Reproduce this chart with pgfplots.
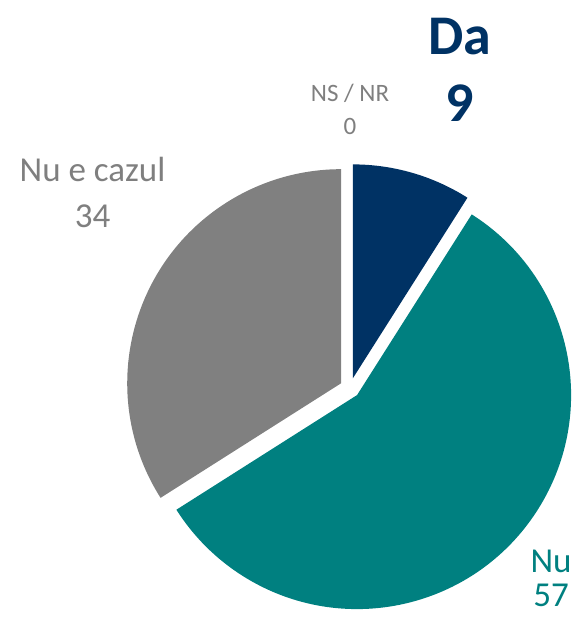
\documentclass[border=0pt]{standalone}
\usepackage{pgfplots}
\usepackage{pgfplotstable}
\pgfplotsset{compat=1.18}
\usepackage{fontspec}
\setmainfont{Carlito}
\usetikzlibrary{calc}
\definecolor{cNavy}{RGB}{0,50,100}
\definecolor{cTeal}{RGB}{0,128,128}
\definecolor{cGray}{RGB}{128,128,128}
\definecolor{cText}{RGB}{127,127,127}

\pgfplotstableread{
label value
Da 9
Nu 57
NuEcazul 34
NSNR 0
}\piedata

\begin{document}
\begin{tikzpicture}
\pgfplotstablegetelem{0}{value}\of\piedata \let\vA\pgfplotsretval
\pgfplotstablegetelem{1}{value}\of\piedata \let\vB\pgfplotsretval
\pgfplotstablegetelem{2}{value}\of\piedata \let\vC\pgfplotsretval
\pgfplotstablegetelem{3}{value}\of\piedata \let\vD\pgfplotsretval
\pgfmathsetmacro\tot{\vA+\vB+\vC+\vD}
\pgfmathsetmacro\fac{360/\tot}
% angles (clockwise from top)
\pgfmathsetmacro\sA{90}
\pgfmathsetmacro\eA{\sA-\fac*\vA}
\pgfmathsetmacro\eB{\eA-\fac*\vB}
\pgfmathsetmacro\eC{\eB-\fac*\vC}
\pgfmathsetmacro\mA{(\sA+\eA)/2}
\pgfmathsetmacro\mB{(\eA+\eB)/2}
\pgfmathsetmacro\mC{(\eB+\eC)/2}
\def\cx{350}\def\cy{236}\def\ex{10}\def\R{214pt}
\pgfmathsetmacro\xA{\cx+\ex*cos(\mA)}\pgfmathsetmacro\yA{\cy+\ex*sin(\mA)}
\pgfmathsetmacro\xB{\cx+\ex*cos(\mB)}\pgfmathsetmacro\yB{\cy+\ex*sin(\mB)}
\pgfmathsetmacro\xC{\cx+\ex*cos(\mC)}\pgfmathsetmacro\yC{\cy+\ex*sin(\mC)}
\begin{axis}[width=576pt,height=624pt,scale only axis,
  xmin=0,xmax=576,ymin=0,ymax=624,hide axis,clip=false]
\fill[cNavy] (axis cs:\xA,\yA) -- ++(\sA:\R) arc[start angle=\sA,end angle=\eA,radius=\R] -- cycle;
\fill[cTeal] (axis cs:\xB,\yB) -- ++(\eA:\R) arc[start angle=\eA,end angle=\eB,radius=\R] -- cycle;
\fill[cGray] (axis cs:\xC,\yC) -- ++(\eB:\R) arc[start angle=\eB,end angle=\eC,radius=\R] -- cycle;
% labels
\node[anchor=base,text=cNavy,font=\fontsize{56}{60}\selectfont\bfseries] at (axis cs:460,569) {Da};
\node[anchor=base,text=cNavy,font=\fontsize{56}{60}\selectfont\bfseries] at (axis cs:460,502) {\vA};
\node[anchor=base,text=cText,font=\fontsize{25}{28}\selectfont] at (axis cs:350,522) {NS / NR};
\node[anchor=base,text=cText,font=\fontsize{25}{28}\selectfont] at (axis cs:350,489) {\vD};
\node[anchor=base,text=cText,font=\fontsize{35}{40}\selectfont] at (axis cs:92.5,442) {Nu e cazul};
\node[anchor=base,text=cText,font=\fontsize{35}{40}\selectfont] at (axis cs:92.5,396) {\vC};
\node[anchor=base,text=cTeal,font=\fontsize{35}{40}\selectfont] at (axis cs:551,51) {Nu};
\node[anchor=base,text=cTeal,font=\fontsize{35}{40}\selectfont] at (axis cs:551,17) {\vB};
\end{axis}
\pgfresetboundingbox
\path (current axis.south west) rectangle (current axis.north east);
\end{tikzpicture}
\end{document}
